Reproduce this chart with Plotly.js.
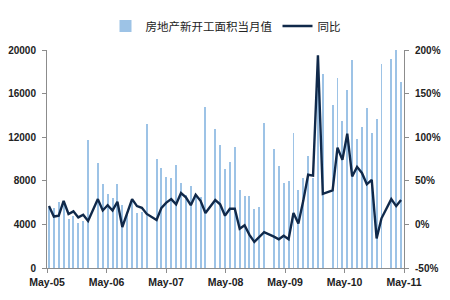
<!DOCTYPE html>
<html><head><meta charset="utf-8">
<script src="https://cdn.plot.ly/plotly-3.0.1.min.js"></script>
<style>html,body{margin:0;padding:0;background:#fff}#chart{width:450px;height:300px}</style>
</head><body><div id="chart"></div>
<script>
const months = [
 'Apr-05','May-05','Jun-05','Jul-05','Aug-05','Sep-05','Oct-05','Nov-05','Dec-05',
 'Jan-06','Feb-06','Mar-06','Apr-06','May-06','Jun-06','Jul-06','Aug-06','Sep-06','Oct-06','Nov-06','Dec-06',
 'Jan-07','Feb-07','Mar-07','Apr-07','May-07','Jun-07','Jul-07','Aug-07','Sep-07','Oct-07','Nov-07','Dec-07',
 'Jan-08','Feb-08','Mar-08','Apr-08','May-08','Jun-08','Jul-08','Aug-08','Sep-08','Oct-08','Nov-08','Dec-08',
 'Jan-09','Feb-09','Mar-09','Apr-09','May-09','Jun-09','Jul-09','Aug-09','Sep-09','Oct-09','Nov-09','Dec-09',
 'Jan-10','Feb-10','Mar-10','Apr-10','May-10','Jun-10','Jul-10','Aug-10','Sep-10','Oct-10','Nov-10','Dec-10',
 'Jan-11','Feb-11','Mar-11','Apr-11'];

// 房地产新开工面积当月值 (万平方米); January not published
const newStarts = [
 5540,5510,6100,5950,4520,4750,4120,4300,11780,
 null,9670,7690,6790,6420,7690,5770,5110,6130,5020,5120,13180,
 null,10030,9130,8380,8230,9430,7780,6700,7480,6700,6500,14770,
 null,12730,11290,9070,9730,11080,7180,6640,6580,5380,5590,13330,
 null,10930,9340,7840,7990,12340,7180,8300,10250,8300,16400,17840,
 null,14980,17450,13490,16300,19040,11830,12900,14690,12430,13700,18740,
 null,19190,20000,17090];

// 同比 (%)
const yoy = [
 21,9,10,27,12,15,8,11,4,
 null,29,16,22,16,26,-3,13,29,21,19,12,
 null,5,19,25,29,23,36,31,22,34,27,13,
 null,28,23,10,18,18,-5,-1,-12,-20,-14,-9,
 null,-14,-17,-13,-17,13,1,27,57,56,194,35,
 null,39,88,74,104,55,66,59,46,51,-16,7,
 null,29,21,28];

const tickLabels = ['May-05','May-06','May-07','May-08','May-09','May-10','May-11'];
const leftTicks = [0, 4000, 8000, 12000, 16000, 20000];
const leftTickText = ['0', '4000', '8000', '12000', '16000', '20000'];
const rightTicks = [-50, 0, 50, 100, 150, 200];
const rightTickText = ['-50%', '0%', '50%', '100%', '150%', '200%'];

const xIdx = months.map((_, i) => i);
const r0 = -0.4, r1 = months.length - 0.4;
const tickPos = tickLabels.map((_, i) => r0 + (r1 - r0) * i / (tickLabels.length - 1));

const tickFont = {family: 'Liberation Sans, Arial, sans-serif', size: 10, color: '#222', weight: 'bold'};
const axisCol = '#8c8c8c';

const traces = [
  {type: 'bar', x: xIdx, y: newStarts, name: '房地产新开工面积当月值',
   marker: {color: '#9DC3E6'}, width: 0.4, yaxis: 'y', hoverinfo: 'skip'},
  {type: 'scatter', mode: 'lines', x: xIdx, y: yoy, name: '同比', connectgaps: true,
   line: {color: '#10294a', width: 2.4}, yaxis: 'y2', hoverinfo: 'skip'}
];

const layout = {
  width: 450, height: 300,
  margin: {l: 47, r: 45.5, t: 46, b: 32},
  paper_bgcolor: '#fff', plot_bgcolor: '#fff',
  showlegend: true,
  legend: {orientation: 'h', x: 0.5, xanchor: 'center', y: 1.11, yanchor: 'middle',
    font: {family: 'Noto Sans CJK SC, sans-serif', size: 11.5, color: '#222'},
    itemwidth: 30, traceorder: 'normal'},
  bargap: 0,
  xaxis: {range: [r0, r1], tickmode: 'array', tickvals: tickPos, ticktext: tickLabels,
    showgrid: false, zeroline: false, showline: true, linecolor: axisCol, linewidth: 1,
    ticks: 'outside', ticklen: 4, tickcolor: axisCol,
    tickfont: {family: 'Liberation Sans, Arial, sans-serif', size: 10.5, color: '#222', weight: 'bold'}},
  yaxis: {range: [0, 20000], tickmode: 'array', tickvals: leftTicks, ticktext: leftTickText,
    showgrid: false, zeroline: false, showline: true, linecolor: axisCol, linewidth: 1,
    ticks: 'outside', ticklen: 4, tickcolor: axisCol, ticklabelstandoff: 4,
    tickfont: tickFont},
  yaxis2: {range: [-50, 200], tickmode: 'array', tickvals: rightTicks, ticktext: rightTickText,
    overlaying: 'y', side: 'right',
    showgrid: false, zeroline: false, showline: true, linecolor: axisCol, linewidth: 1,
    ticks: 'outside', ticklen: 4, tickcolor: axisCol, ticklabelstandoff: 4,
    tickfont: tickFont}
};

Plotly.newPlot('chart', traces, layout, {staticPlot: true, displayModeBar: false});
</script></body></html>
